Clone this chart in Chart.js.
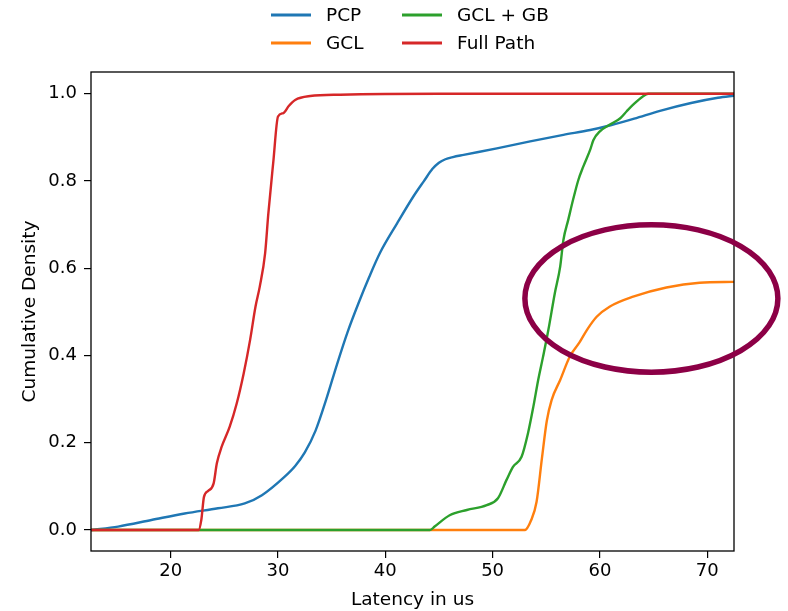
<!DOCTYPE html>
<html>
<head>
<meta charset="utf-8">
<script src="https://cdn.jsdelivr.net/npm/chart.js@4.4.0/dist/chart.umd.min.js"></script>
<style>
  html, body { margin: 0; padding: 0; background: #fff; }
  canvas { display: block; }
</style>
</head>
<body>
<canvas id="cdfChart" width="788" height="611"></canvas>
<script>
const seriesNames = ['PCP', 'GCL', 'GCL + GB', 'Full Path'];
const seriesColors = ['#1f77b4', '#ff7f0e', '#2ca02c', '#d62728'];

// latency (us) / cumulative density
const pcpX = [12.57, 15.1, 18.2, 21.3, 24.4, 26.9, 28.5, 30.6, 31.6, 32.5, 33.5, 34.5, 35.5, 36.5, 37.5, 38.5, 39.5, 41.1, 42.6, 43.6, 44.4, 45.0, 45.6, 46.3, 47.3, 50.4, 53.5, 56.6, 59.1, 61.0, 63.2, 65.6, 68.5, 71.0, 72.6];
const pcpY = [0.0, 0.008, 0.023, 0.038, 0.05, 0.061, 0.08, 0.122, 0.147, 0.178, 0.228, 0.30, 0.38, 0.455, 0.52, 0.58, 0.635, 0.703, 0.764, 0.80, 0.828, 0.842, 0.850, 0.855, 0.86, 0.875, 0.891, 0.906, 0.917, 0.928, 0.943, 0.961, 0.979, 0.991, 0.996];

const gclX = [12.57, 53.0, 53.6, 54.1, 54.6, 55.05, 55.5, 56.3, 57.2, 58.1, 58.8, 59.7, 60.9, 63.1, 66.2, 69.3, 72.6];
const gclY = [0.0, 0.0, 0.023, 0.065, 0.165, 0.25, 0.298, 0.344, 0.398, 0.43, 0.459, 0.489, 0.512, 0.535, 0.556, 0.567, 0.569];

const gclGbX = [12.57, 44.16, 44.6, 46.0, 47.6, 49.45, 50.5, 51.3, 51.9, 52.7, 53.3, 53.8, 54.25, 54.7, 55.2, 55.8, 56.3, 56.6, 57.05, 57.5, 58.0, 58.45, 59.1, 59.4, 60.0, 60.9, 61.9, 62.5, 63.1, 64.0, 64.5, 72.6];
const gclGbY = [0.0, 0.0, 0.008, 0.034, 0.046, 0.057, 0.073, 0.115, 0.145, 0.168, 0.222, 0.283, 0.344, 0.397, 0.459, 0.543, 0.604, 0.665, 0.711, 0.757, 0.803, 0.833, 0.872, 0.894, 0.914, 0.929, 0.944, 0.96, 0.975, 0.994, 1.0, 1.0];

const fullX = [12.57, 22.6, 22.85, 23.1, 23.5, 24.0, 24.3, 24.75, 25.5, 26.15, 26.8, 27.4, 27.9, 28.3, 28.8, 29.1, 29.55, 30.0, 30.5, 31.0, 31.6, 33.0, 35.8, 45.0, 72.6];
const fullY = [0.0, 0.0, 0.023, 0.076, 0.09, 0.107, 0.153, 0.191, 0.237, 0.29, 0.359, 0.436, 0.512, 0.558, 0.635, 0.726, 0.841, 0.948, 0.956, 0.972, 0.986, 0.995, 0.998, 1.0, 1.0];

const xTicks = [20, 30, 40, 50, 60, 70];
const yTicks = [0.0, 0.2, 0.4, 0.6, 0.8, 1.0];

// the hand-drawn ring around the GCL tail, in data units
const highlight = { x: 64.8, y: 0.531, rx: 11.79, ry: 0.169 };

const FONT = 'DejaVu Sans';

function toPoints(xs, ys) {
  return xs.map((x, i) => ({ x: x, y: ys[i] }));
}

const seriesData = [toPoints(pcpX, pcpY), toPoints(gclX, gclY), toPoints(gclGbX, gclGbY), toPoints(fullX, fullY)];

const datasets = seriesNames.map((name, i) => ({
  label: name,
  data: seriesData[i],
  borderColor: seriesColors[i],
  backgroundColor: seriesColors[i],
  borderWidth: 2.4,
  pointRadius: 0,
  cubicInterpolationMode: 'monotone',
  fill: false,
  order: seriesNames.length - i   // Full Path on top, like matplotlib
}));

const extras = {
  id: 'extras',
  afterDatasetsDraw(chart) {
    const { ctx, chartArea: a } = chart;
    ctx.save();
    ctx.strokeStyle = '#000';
    ctx.lineWidth = 1.3;
    ctx.strokeRect(a.left, a.top, a.right - a.left, a.bottom - a.top);
    ctx.restore();
  },
  afterDraw(chart) {
    const { ctx } = chart;
    const xs = chart.scales.x, ys = chart.scales.y;

    // ellipse
    const cx = xs.getPixelForValue(highlight.x);
    const cy = ys.getPixelForValue(highlight.y);
    const rx = xs.getPixelForValue(highlight.x + highlight.rx) - cx;
    const ry = cy - ys.getPixelForValue(highlight.y + highlight.ry);
    ctx.save();
    ctx.beginPath();
    ctx.ellipse(cx, cy, rx, ry, 0, 0, Math.PI * 2);
    ctx.strokeStyle = '#8c0046';
    ctx.lineWidth = 5.5;
    ctx.stroke();
    ctx.restore();

    // legend, two columns
    const cols = [271, 402];
    const rows = [15, 43];
    const order = [[0, 0], [1, 0], [0, 1], [1, 1]]; // [row, col] per series
    ctx.save();
    ctx.font = '18.5px "' + FONT + '"';
    ctx.textBaseline = 'middle';
    ctx.fillStyle = '#000';
    seriesNames.forEach((name, i) => {
      const lx = cols[order[i][1]];
      const ly = rows[order[i][0]];
      ctx.beginPath();
      ctx.moveTo(lx, ly);
      ctx.lineTo(lx + 40, ly);
      ctx.strokeStyle = seriesColors[i];
      ctx.lineWidth = 3;
      ctx.stroke();
      ctx.fillText(name, lx + 55, ly + 1);
    });
    ctx.restore();
  }
};

new Chart(document.getElementById('cdfChart'), {
  type: 'line',
  data: { datasets: datasets },
  options: {
    responsive: false,
    animation: false,
    devicePixelRatio: 1,
    layout: { padding: { top: 72, right: 54, left: 0, bottom: 0 } },
    plugins: {
      legend: { display: false },
      tooltip: { enabled: false }
    },
    scales: {
      x: {
        type: 'linear',
        min: 12.57,
        max: 72.5,
        afterBuildTicks: s => { s.ticks = xTicks.map(v => ({ value: v })); },
        afterFit: s => { s.height = 60; },
        ticks: {
          color: '#000',
          font: { family: FONT, size: 18 },
          padding: 3,
          maxRotation: 0,
          callback: v => String(v)
        },
        grid: { drawOnChartArea: false, drawTicks: true, tickLength: 7, color: '#000', lineWidth: 1.2 },
        border: { display: false },
        title: {
          display: true,
          text: 'Latency in us',
          color: '#000',
          font: { family: FONT, size: 18.5 },
          padding: { top: 0, bottom: 0 }
        }
      },
      y: {
        type: 'linear',
        min: -0.048,
        max: 1.05,
        afterBuildTicks: s => { s.ticks = yTicks.map(v => ({ value: v })); },
        afterFit: s => { s.width = 91; },
        ticks: {
          color: '#000',
          font: { family: FONT, size: 18 },
          padding: 7,
          callback: v => Number(v).toFixed(1)
        },
        grid: { drawOnChartArea: false, drawTicks: true, tickLength: 7, color: '#000', lineWidth: 1.2 },
        border: { display: false },
        title: {
          display: true,
          text: 'Cumulative Density',
          color: '#000',
          font: { family: FONT, size: 18.5 },
          padding: { top: 19.5, bottom: 0 }
        }
      }
    }
  },
  plugins: [extras]
});
</script>
</body>
</html>
